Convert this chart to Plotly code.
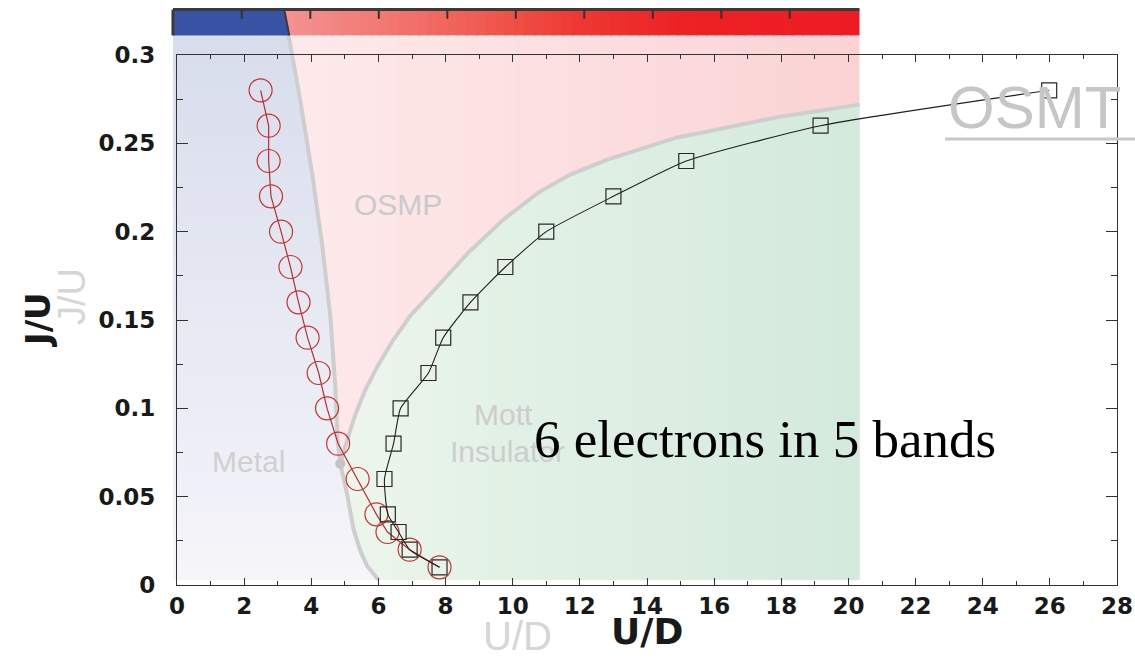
import numpy as np
import plotly.graph_objects as go

# ---------------- data ----------------
j_over_u = [0.28, 0.26, 0.24, 0.22, 0.20, 0.18, 0.16, 0.14, 0.12, 0.10, 0.08, 0.06, 0.04, 0.03, 0.02, 0.01]
ud_circles = [2.49, 2.73, 2.73, 2.80, 3.10, 3.38, 3.62, 3.89, 4.22, 4.47, 4.80, 5.38, 5.94, 6.27, 6.93, 7.82]
ud_squares = [25.98, 19.17, 15.17, 13.00, 11.00, 9.78, 8.74, 7.93, 7.49, 6.66, 6.45, 6.18, 6.28, 6.60, 6.93, 7.82]

x_tickvals = list(range(0, 30, 2))
y_tickvals = [0, 0.05, 0.1, 0.15, 0.2, 0.25, 0.3]
y_ticktext = ["0", "0.05", "0.1", "0.15", "0.2", "0.25", "0.3"]

# background phase diagram (in chart units)
metal_x = [3.324, 3.673, 4.021, 4.319, 4.566, 4.715, 4.784, 4.864, 5.064, 5.261, 5.460, 5.660, 5.996]
metal_y = [0.3111, 0.2741, 0.2334, 0.1932, 0.1524, 0.1122, 0.0817, 0.0687, 0.0517, 0.0313, 0.0194, 0.0109, 0.0030]
mott_x = [4.864, 5.073, 5.311, 5.609, 5.996, 6.443, 6.950, 7.665, 8.677, 9.720, 10.762, 11.716, 12.818, 14.873, 17.971, 20.33]
mott_y = [0.0687, 0.0822, 0.0964, 0.1105, 0.1246, 0.1388, 0.1524, 0.1671, 0.1881, 0.2068, 0.2221, 0.2323, 0.2408, 0.2532, 0.2651, 0.2719]
bar_tick_u = [2, 4, 6, 8, 10, 12, 14, 16, 18]

X0, X1 = -0.12, 20.33       # overlay horizontal extent
Y0, Y1 = 0.003, 0.3111      # overlay vertical extent
YB = 0.3257                 # top of colour bar
XRANGE, YRANGE = 28.0, 0.3


def pp(x, y):
    return x / XRANGE, y / YRANGE


def path(xs, ys, close=True):
    pts = [pp(x, y) for x, y in zip(xs, ys)]
    s = "M " + " L ".join(f"{a:.5f},{b:.5f}" for a, b in pts)
    return s + (" Z" if close else "")


def grad(stops, t):
    for (t0, c0), (t1, c1) in zip(stops[:-1], stops[1:]):
        if t <= t1:
            f = 0 if t1 == t0 else (t - t0) / (t1 - t0)
            f = min(max(f, 0), 1)
            return "rgb(%d,%d,%d)" % tuple(round(a + (b - a) * f) for a, b in zip(c0, c1))
    return "rgb(%d,%d,%d)" % stops[-1][1]


shapes = []


def add_poly(xs, ys, color):
    shapes.append(dict(type="path", xref="paper", yref="paper", path=path(xs, ys),
                       fillcolor=color, line=dict(width=0), layer="below"))


# pink (OSMP) base with horizontal gradient
pink_stops = [(X0, (253, 234, 235)), (4.0, (253, 233, 234)), (X1, (251, 211, 212))]
edges = np.linspace(X0, X1, 41)
for a, b in zip(edges[:-1], edges[1:]):
    bb = b + 0.06 if b < X1 else b
    add_poly([a, a, bb, bb], [Y0, Y1, Y1, Y0], grad(pink_stops, (a + b) / 2))

# blue (metal) region, vertical gradient
mx_r, my_r = np.array(metal_x[::-1]), np.array(metal_y[::-1])
blue_stops = [(Y0, (245, 245, 250)), (Y1, (216, 221, 236))]
yedges = np.linspace(Y0, Y1, 33)
for a, b in zip(yedges[:-1], yedges[1:]):
    bb = min(b + 0.0008, Y1)
    inner = [(x, y) for x, y in zip(metal_x, metal_y) if a < y < bb]
    xs = [X0, X0, float(np.interp(bb, my_r, mx_r))] + [p[0] for p in inner] + [float(np.interp(a, my_r, mx_r))]
    ys = [a, bb, bb] + [p[1] for p in inner] + [a]
    add_poly(xs, ys, grad(blue_stops, (a + b) / 2))

# green (Mott insulator) region, horizontal gradient
green_stops = [(mott_x[0], (237, 246, 237)), (10.0, (226, 241, 229)), (X1, (211, 234, 220))]
xedges = np.linspace(mott_x[0], X1, 41)
low_x, low_y = metal_x[7:], metal_y[7:]
for a, b in zip(xedges[:-1], xedges[1:]):
    bb = min(b + 0.06, X1)
    s = np.linspace(a, bb, 6)
    top = np.interp(s, mott_x, mott_y)
    bot = np.where(s < low_x[-1], np.interp(s, low_x, low_y), Y0)
    xs = list(s) + list(s[::-1])
    ys = list(top) + list(bot[::-1])
    add_poly(xs, ys, grad(green_stops, (a + b) / 2))

# grey phase boundaries
for xs, ys in [(metal_x, metal_y), (mott_x, mott_y)]:
    shapes.append(dict(type="path", xref="paper", yref="paper", path=path(xs, ys, close=False),
                       fillcolor="rgba(0,0,0,0)", line=dict(color="rgb(206,206,206)", width=4), layer="below"))
bx, by = pp(mott_x[0], mott_y[0])
shapes.append(dict(type="circle", xref="paper", yref="paper", x0=bx - 5 / 940, x1=bx + 5 / 940,
                   y0=by - 5 / 530, y1=by + 5 / 530, fillcolor="rgb(196,196,196)", line=dict(width=0), layer="below"))

# colour bar on top
bar_stops = [(3.2, (244, 146, 146)), (6.0, (242, 122, 116)), (9.0, (240, 92, 82)),
             (12.0, (238, 56, 50)), (15.0, (237, 34, 36)), (X1, (237, 28, 36))]
bedges = np.linspace(3.19, X1, 61)
for a, b in zip(bedges[:-1], bedges[1:]):
    bb = b + 0.05 if b < X1 else b
    add_poly([a, a, bb, bb], [Y1, YB, YB, Y1], grad(bar_stops, (a + b) / 2))
add_poly([X0, X0, 3.196, 3.345], [Y1, YB, YB, Y1], "rgb(57,83,164)")
for xs, ys, w in [([3.196, 3.345], [YB, Y1], 2), ([X0, X1], [YB, YB], 3), ([X0, X0], [Y1, YB], 3)]:
    shapes.append(dict(type="path", xref="paper", yref="paper", path=path(xs, ys, close=False),
                       line=dict(color="rgb(58,58,58)", width=w), layer="below"))
for u in bar_tick_u:
    xc = -0.11 + 1.0202 * u
    shapes.append(dict(type="path", xref="paper", yref="paper",
                       path=path([xc, xc], [YB, YB - 0.0052], close=False),
                       line=dict(color="rgb(50,50,50)", width=2), layer="below"))

# OSMT underline
shapes.append(dict(type="line", xref="paper", yref="paper",
                   x0=(945 - 177) / 940, x1=(1135 - 177) / 940, y0=(585 - 139) / 530, y1=(585 - 139) / 530,
                   line=dict(color="rgb(200,200,200)", width=3), layer="above"))

# ---------------- traces ----------------
fig = go.Figure()
fig.add_trace(go.Scatter(
    x=ud_circles, y=j_over_u, mode="lines+markers",
    line=dict(color="rgb(185,45,45)", width=1.2),
    marker=dict(symbol="circle-open", size=23, color="rgb(200,50,45)", line=dict(width=1.2)),
    showlegend=False, cliponaxis=False))
fig.add_trace(go.Scatter(
    x=ud_squares, y=j_over_u, mode="lines+markers",
    line=dict(color="rgb(30,30,30)", width=1.1, shape="spline", smoothing=0.5),
    marker=dict(symbol="square-open", size=15, color="rgb(40,40,40)", line=dict(width=1.2)),
    showlegend=False, cliponaxis=False))


def ann(text, px, py, size, color, family="Liberation Sans", bold=False, angle=0):
    return dict(text=text, x=(px - 177) / 940, y=(585 - py) / 530, xref="paper", yref="paper",
                xanchor="center", yanchor="middle", showarrow=False, textangle=angle,
                font=dict(family=family, size=size, color=color, weight="bold" if bold else "normal"))


annotations = [
    ann("J/U", 72, 297, 38, "rgb(214,214,214)", angle=-90),
    ann("U/D", 517, 636, 40, "rgb(214,214,214)"),
    ann("OSMP", 398, 204, 30, "rgb(201,203,203)"),
    ann("Metal", 248, 461, 30, "rgb(208,208,208)"),
    ann("Mott", 503, 414, 30, "rgb(205,205,205)"),
    ann("Insulator", 507, 451, 30, "rgb(205,205,205)"),
    ann("OSMT", 1034, 108, 60, "rgb(198,198,198)"),
    ann("J/U", 38, 320, 34, "rgb(25,25,25)", family="DejaVu Sans", bold=True, angle=-90),
    ann("U/D", 647, 631, 36, "rgb(25,25,25)", family="DejaVu Sans", bold=True),
    ann("6 electrons in 5 bands", 765, 439, 53, "black", family="Liberation Serif"),
]

tickfont = dict(family="DejaVu Sans", size=23, color="rgb(25,25,25)", weight="bold")
axis_common = dict(showline=True, linecolor="rgb(50,50,50)", linewidth=1.3, mirror="ticks",
                   ticks="inside", tickcolor="rgb(50,50,50)", tickwidth=1.2, automargin=False,
                   showgrid=False, zeroline=False, tickfont=tickfont)

fig.update_layout(
    width=1135, height=660,
    margin=dict(l=177, r=18, t=55, b=75),
    paper_bgcolor="white", plot_bgcolor="white",
    shapes=shapes, annotations=annotations,
    xaxis=dict(range=[0, XRANGE], tickvals=x_tickvals, ticklen=7, ticklabelstandoff=0,
               minor=dict(ticks="inside", dtick=1, ticklen=3.5, tickcolor="rgb(50,50,50)", tickwidth=1.2),
               **axis_common),
    yaxis=dict(range=[0, YRANGE], tickvals=y_tickvals, ticktext=y_ticktext, ticklen=11, ticklabelstandoff=16,
               minor=dict(ticks="inside", dtick=0.025, ticklen=6, tickcolor="rgb(50,50,50)", tickwidth=1.2),
               **axis_common),
)

fig.write_html("out.html")
